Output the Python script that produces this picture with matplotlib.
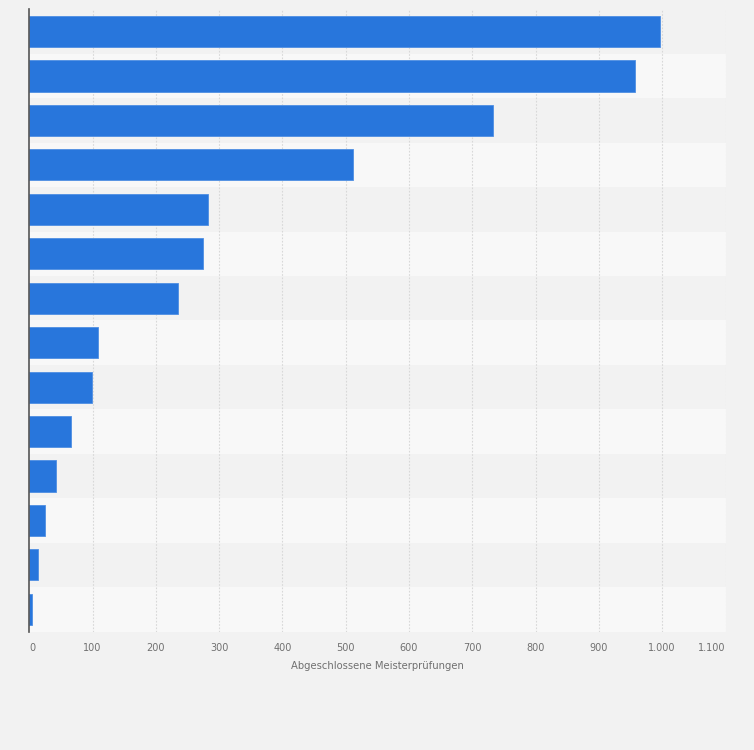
import matplotlib
matplotlib.use("Agg")
import matplotlib.pyplot as plt
from matplotlib.patches import Rectangle

# Data (top to bottom); category names not shown in reference
categories = [f"Kategorie {i}" for i in range(1, 15)]
values = [997, 957, 733, 512, 283, 274, 235, 109, 99, 66, 42, 25, 14, 4]
xticks = [0, 100, 200, 300, 400, 500, 600, 700, 800, 900, 1000, 1100]
xtick_labels = ["0", "100", "200", "300", "400", "500", "600", "700", "800", "900", "1.000", "1.100"]
xlabel = "Abgeschlossene Meisterprüfungen"

bg = "#f2f2f2"
band_light = "#f8f8f8"
bar_color = "#2876dc"

fig = plt.figure(figsize=(7.54, 7.5), dpi=100, facecolor=bg)
ax = fig.add_axes([29.2 / 754, 118.5 / 750, (725.5 - 29.2) / 754, (631.5 - 9.3) / 750])
ax.set_facecolor(bg)

n = len(values)
ypos = list(range(n))
ax.set_xlim(0, 1100)
ax.set_ylim(n - 0.5, -0.5)

# alternating bands
for i in range(n):
    ax.add_patch(Rectangle((0, i - 0.5), 1100, 1, facecolor=(bg if i % 2 == 0 else band_light),
                           edgecolor="none", zorder=0))

for x in xticks[1:]:
    ax.axvline(x, color="#d8d8d8", linestyle=(0, (1.5, 1.5)), linewidth=0.8, zorder=1)

ax.barh(ypos, values, height=0.7, color=bar_color, edgecolor="#4f8fe3", linewidth=0.6, zorder=2)

for s in ["top", "right", "bottom"]:
    ax.spines[s].set_visible(False)
ax.spines["left"].set_color("#555555")
ax.spines["left"].set_linewidth(1.2)
ax.spines["left"].set_zorder(3)

ax.set_yticks([])
ax.set_xticks(xticks)
ax.set_xticklabels(xtick_labels, fontsize=7, color="#707070")
ax.tick_params(axis="x", length=0, pad=8)
lbls = ax.get_xticklabels()
lbls[0].set_ha("left")
lbls[-1].set_ha("right")

ax.set_xlabel(xlabel, fontsize=7.2, color="#707070", labelpad=6)

fig.savefig("out.png", dpi=100, facecolor=bg)
